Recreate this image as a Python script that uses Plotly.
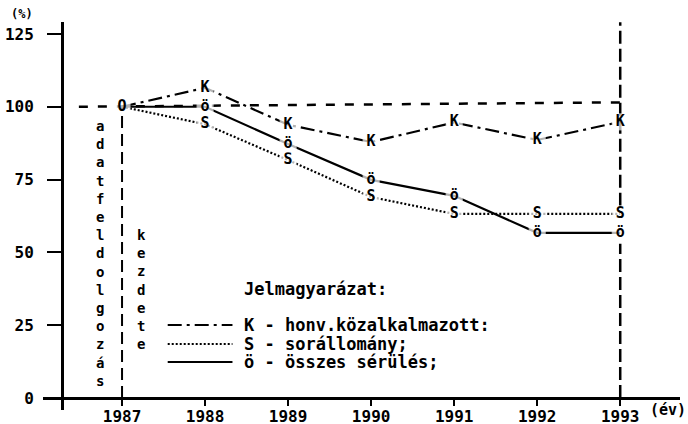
import plotly.graph_objects as go

years = [1987, 1988, 1989, 1990, 1991, 1992, 1993]
k_values = [100, 106.5, 93.8, 87.9, 94.6, 88.6, 94.8]
s_values = [100, 94.0, 81.7, 69.0, 63.2, 63.2, 63.2]
o_values = [100, 100.0, 87.2, 74.9, 69.4, 56.7, 56.7]
k_labels = ["", "K", "K", "K", "K", "K", "K"]
s_labels = ["", "S", "S", "S", "S", "S", "S"]
o_labels = ["O", "ö", "ö", "ö", "ö", "ö", "ö"]
y_ticks = [0, 25, 50, 75, 100, 125]
x_ticks = years

FONT = "DejaVu Sans Mono"
fig = go.Figure()

series = [
    (k_values, k_labels, "14px,5px,3px,5px"),
    (s_values, s_labels, "2px,2px"),
    (o_values, o_labels, "solid"),
]
for vals, labs, dash in series:
    fig.add_trace(go.Scatter(x=years, y=vals, mode="lines",
                             line=dict(color="black", width=2.2, dash=dash),
                             hoverinfo="skip", showlegend=False))
for vals, labs, dash in series:
    fig.add_trace(go.Scatter(x=years, y=vals, mode="markers+text", text=labs,
                             textposition="middle center",
                             textfont=dict(family=FONT, size=15, color="black", weight="bold"),
                             marker=dict(symbol="square", size=[16 if t else 0 for t in labs],
                                         color="white"),
                             hoverinfo="skip", showlegend=False))

shapes = []
# reference dashed lines
shapes.append(dict(type="line", xref="x", yref="y", x0=1986.48, x1=1993, y0=100, y1=101.5,
                   line=dict(color="black", width=2.5, dash="9px,10px"), layer="below"))
shapes.append(dict(type="line", xref="x", yref="y", x0=1987, x1=1987, y0=0, y1=100,
                   line=dict(color="black", width=2, dash="12px,6px"), layer="below"))
shapes.append(dict(type="line", xref="x", yref="y", x0=1993, x1=1993, y0=0, y1=53,
                   line=dict(color="black", width=2.5, dash="13px,5px"), layer="below"))
shapes.append(dict(type="line", xref="x", yref="y", x0=1993, x1=1993, y0=66, y1=129,
                   line=dict(color="black", width=2.5, dash="13px,5px"), layer="below"))
# legend samples
leg_y = [25.1, 18.5, 12.4]
leg_dash = ["14px,5px,3px,5px", "2px,2px", "solid"]
leg_text = ["K - honv.közalkalmazott:", "S - sorállomány;", "ö - összes sérülés;"]
for yy, dd in zip(leg_y, leg_dash):
    shapes.append(dict(type="line", xref="x", yref="y", x0=1987.55, x1=1988.33, y0=yy, y1=yy,
                       line=dict(color="black", width=2, dash=dd)))

annotations = []
for yy, tt in zip(leg_y, leg_text):
    annotations.append(dict(x=1988.45, y=yy, xref="x", yref="y", text=tt, showarrow=False,
                            xanchor="left", yanchor="middle",
                            font=dict(family=FONT, size=17, color="black", weight="bold")))
annotations.append(dict(x=1988.45, y=37.4, xref="x", yref="y", text="Jelmagyarázat:",
                        showarrow=False, xanchor="left", yanchor="middle",
                        font=dict(family=FONT, size=17, color="black", weight="bold")))
annotations.append(dict(x=1986.735, y=49.6, xref="x", yref="y",
                        text="<br>".join(list("adatfeldolgozás")), showarrow=False,
                        xanchor="center", yanchor="middle",
                        font=dict(family=FONT, size=14, color="black", weight="bold")))
annotations.append(dict(x=1987.24, y=37.1, xref="x", yref="y",
                        text="<br>".join(list("kezdete")), showarrow=False,
                        xanchor="center", yanchor="middle",
                        font=dict(family=FONT, size=14, color="black", weight="bold")))
annotations.append(dict(x=9, y=14, xref="paper", yref="paper", text="(%)", showarrow=False,
                        xanchor="left", yanchor="middle",
                        font=dict(family=FONT, size=12, color="black", weight="bold")))
annotations.append(dict(x=648, y=410, xref="paper", yref="paper", text="(év)", showarrow=False,
                        xanchor="left", yanchor="middle",
                        font=dict(family=FONT, size=15, color="black", weight="bold")))

W, H = 688, 424
ML, MR, MT, MB = 43, 8, 22, 14
pw, ph = W - ML - MR, H - MT - MB
# convert pixel annotations to paper
for a in annotations:
    if a["xref"] == "paper":
        a["x"] = (a["x"] - ML) / pw
        a["y"] = (H - MB - a["y"]) / ph

ymin, ymax = -4.12, 129.1
xmin, xmax = 1986.048, 1993.72

fig.update_layout(
    width=W, height=H, margin=dict(l=ML, r=MR, t=MT, b=MB),
    paper_bgcolor="white", plot_bgcolor="white",
    shapes=shapes, annotations=annotations, showlegend=False,
    xaxis=dict(range=[xmin, xmax], tickvals=x_ticks, ticktext=[str(v) for v in x_ticks],
               showgrid=False, zeroline=False, showline=True, linecolor="black", linewidth=3,
               ticks="outside", ticklen=6, tickwidth=2, tickcolor="black",
               anchor="free", position=(0 - ymin) / (ymax - ymin), automargin=False,
               ticklabelstandoff=-3,
               tickfont=dict(family=FONT, size=16, color="black", weight="bold")),
    yaxis=dict(range=[ymin, ymax], tickvals=y_ticks, ticktext=[str(v) for v in y_ticks],
               showgrid=False, zeroline=False, showline=True, linecolor="black", linewidth=3,
               ticks="outside", ticklen=14, tickwidth=2, tickcolor="black",
               anchor="free", position=(62 - ML) / pw, automargin=False,
               ticklabelstandoff=10,
               tickfont=dict(family=FONT, size=16, color="black", weight="bold")),
)

fig.write_html("out.html", config={"displayModeBar": False},
               post_script="document.body.style.margin='0';document.body.style.overflow='hidden';")
